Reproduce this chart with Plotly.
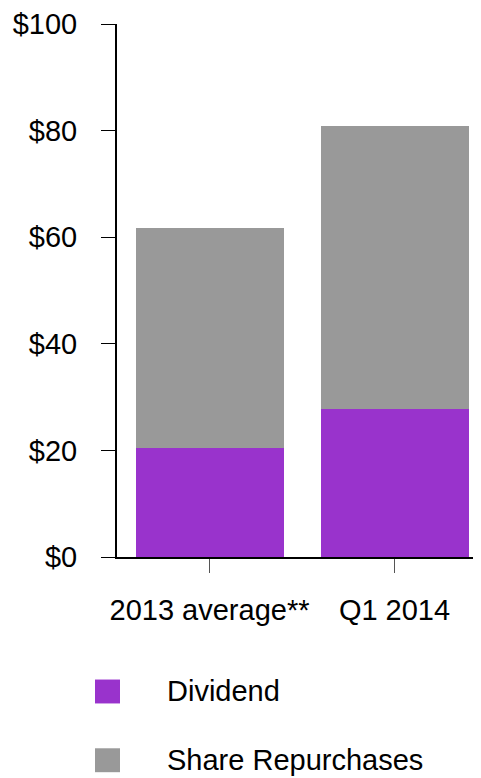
import plotly.graph_objects as go

categories = ["2013 average**", "Q1 2014"]
dividend = [20.4, 27.7]
repurchases = [41.3, 53.2]
series_names = ["Dividend", "Share Repurchases"]
series_colors = ["#9933CC", "#999999"]
tick_vals = [0, 20, 40, 60, 80, 100]
tick_text = ["$0", "$20", "$40", "$60", "$80", "$100"]

OFF = 8  # default page body margin
W, H = 481 - OFF, 778 - OFF
ML, MR, MT, MB = 117 - OFF, 0, 22 - OFF, 221
PW, PH = W - ML - MR, H - MT - MB
FONT = "Liberation Sans, Arial, sans-serif"
FS = 29

fig = go.Figure()
for name, vals, col in zip(series_names, [dividend, repurchases], series_colors):
    fig.add_trace(go.Bar(x=categories, y=vals, name=name, marker_color=col,
                         marker_line_width=0, width=0.8, showlegend=False))

def px2x(p):
    return (p - OFF - ML) / PW

def py2y(p):
    return (H - MB - (p - OFF)) / PH

# manual legend (page pixel positions)
legend_rows = [692, 761]
shapes = []
annotations = []
for name, col, yc in zip(series_names, series_colors, legend_rows):
    shapes.append(dict(type="rect", xref="paper", yref="paper",
                       x0=px2x(95), x1=px2x(120), y0=py2y(yc + 12), y1=py2y(yc - 12),
                       fillcolor=col, line_width=0))
    annotations.append(dict(text=name, xref="paper", yref="paper",
                            x=px2x(165), y=py2y(yc), xanchor="left", yanchor="middle",
                            showarrow=False, font=dict(family=FONT, size=FS, color="black")))

fig.update_layout(
    width=W, height=H,
    margin=dict(l=ML, r=MR, t=MT, b=MB, pad=0),
    barmode="stack",
    plot_bgcolor="white", paper_bgcolor="white",
    font=dict(family=FONT, size=FS, color="black"),
    shapes=shapes, annotations=annotations,
    showlegend=False,
)
fig.update_xaxes(range=[-0.5, 1.5 - 6 / 185], showline=True, linecolor="black", linewidth=2,
                 ticks="outside", ticklen=14, tickcolor="#555555", tickwidth=1,
                 showgrid=False, zeroline=False, ticklabelstandoff=12,
                 tickfont=dict(family=FONT, size=FS, color="black"))
fig.update_yaxes(range=[0, 100], tickvals=tick_vals, ticktext=tick_text,
                 showline=True, linecolor="black", linewidth=2,
                 ticks="outside", ticklen=14, tickcolor="black", tickwidth=1,
                 showgrid=False, zeroline=False, ticklabelstandoff=18,
                 ticklabeloverflow="allow",
                 tickfont=dict(family=FONT, size=FS, color="black"))

fig.write_html("out.html")
